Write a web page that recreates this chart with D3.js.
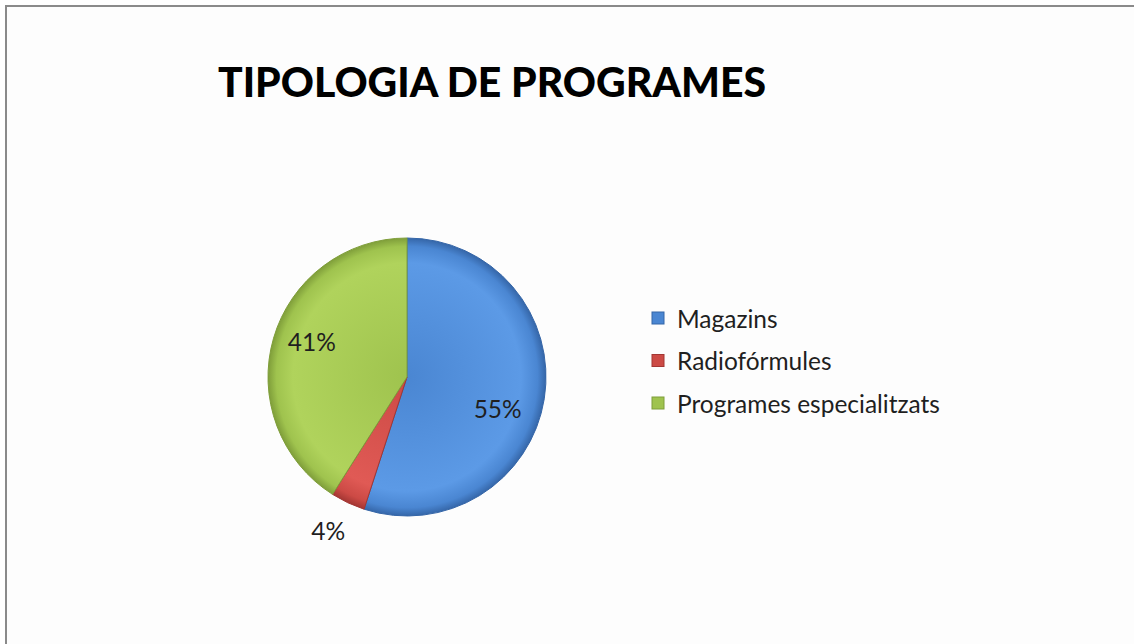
<!DOCTYPE html>
<html>
<head>
<meta charset="utf-8">
<script src="https://cdn.jsdelivr.net/npm/d3@7"></script>
<style>
  html, body { margin: 0; padding: 0; background: #ffffff; }
  svg { display: block; }
</style>
</head>
<body>
<svg id="chart" width="1134" height="644"></svg>
<script>
const title = "TIPOLOGIA DE PROGRAMES";
const categories = ["Magazins", "Radiofórmules", "Programes especialitzats"];
const values = [55, 4, 41];
const labels = ["55%", "4%", "41%"];
const colors = ["#4a86d2", "#cc4a45", "#9fc34e"];
const lightColors = ["#5c9ae6", "#e05a55", "#b0d35c"];
const darkColors = ["#3566a8", "#a33633", "#7f9e3a"];

const svg = d3.select("#chart");
const W = 1134, H = 644;

// background & frame
svg.append("rect").attr("width", W).attr("height", H).attr("fill", "#ffffff");
svg.append("rect").attr("x", 6).attr("y", 6).attr("width", W + 20).attr("height", H + 20)
  .attr("fill", "#fdfdfd").attr("stroke", "#8a8a8a").attr("stroke-width", 2);

const font = "Lato, 'Open Sans', sans-serif";

function fitText(sel, targetWidth) {
  const node = sel.node();
  const fs = parseFloat(sel.attr("font-size"));
  const w = node.getComputedTextLength();
  sel.attr("font-size", (fs * targetWidth / w).toFixed(2));
}

// title
const t = svg.append("text").attr("x", 218).attr("y", 97)
  .attr("font-family", font).attr("font-weight", "900").attr("font-size", 38)
  .attr("fill", "#000").text(title);
fitText(t, 548);

// pie
const cx = 407, cy = 377, r = 139;
const defs = svg.append("defs");
colors.forEach((c, i) => {
  const g = defs.append("radialGradient").attr("id", "g" + i)
    .attr("gradientUnits", "userSpaceOnUse")
    .attr("cx", 0).attr("cy", 0).attr("r", r);
  g.append("stop").attr("offset", "0%").attr("stop-color", c);
  g.append("stop").attr("offset", "82%").attr("stop-color", lightColors[i]);
  g.append("stop").attr("offset", "94%").attr("stop-color", c);
  g.append("stop").attr("offset", "100%").attr("stop-color", darkColors[i]);
});

const pie = d3.pie().sort(null).value(d => d)(values);
const arc = d3.arc().innerRadius(0).outerRadius(r);
const gp = svg.append("g").attr("transform", `translate(${cx},${cy})`);
gp.selectAll("path").data(pie).join("path")
  .attr("d", arc)
  .attr("fill", (d, i) => `url(#g${i})`)
  .attr("stroke", (d, i) => darkColors[i])
  .attr("stroke-width", 1);

// percent labels (radius fraction, angular nudge in degrees)
const labelPos = [
  {r: 0.69, da: 10, target: 48},
  {r: 1.24, da: 2, target: 34},
  {r: 0.73, da: 4, target: 48}
];
pie.forEach((d, i) => {
  const a = (d.startAngle + d.endAngle) / 2 + labelPos[i].da * Math.PI / 180;
  const rr = r * labelPos[i].r;
  const x = cx + rr * Math.sin(a);
  const y = cy - rr * Math.cos(a);
  const lt = svg.append("text").attr("x", x).attr("y", y)
    .attr("text-anchor", "middle").attr("dominant-baseline", "central")
    .attr("font-family", font).attr("font-size", 20).attr("fill", "#1f1f1f")
    .text(labels[i]);
  fitText(lt, labelPos[i].target);
});

// legend
const legY = d3.scalePoint().domain(categories).range([318, 403]);
const leg = svg.append("g");
categories.forEach((c, i) => {
  const y = legY(c);
  leg.append("rect").attr("x", 652).attr("y", y - 6).attr("width", 12).attr("height", 12)
    .attr("fill", colors[i]).attr("stroke", darkColors[i]).attr("stroke-width", 1);
  const lt = leg.append("text").attr("x", 677).attr("y", y)
    .attr("dominant-baseline", "central")
    .attr("font-family", font).attr("font-size", 20).attr("fill", "#1f1f1f")
    .text(c);
  if (i === 2) fitText(lt, 263);
});
const fsLegend = leg.selectAll("text").filter((d, i) => i === 2).attr("font-size");
leg.selectAll("text").attr("font-size", fsLegend);
</script>
</body>
</html>
